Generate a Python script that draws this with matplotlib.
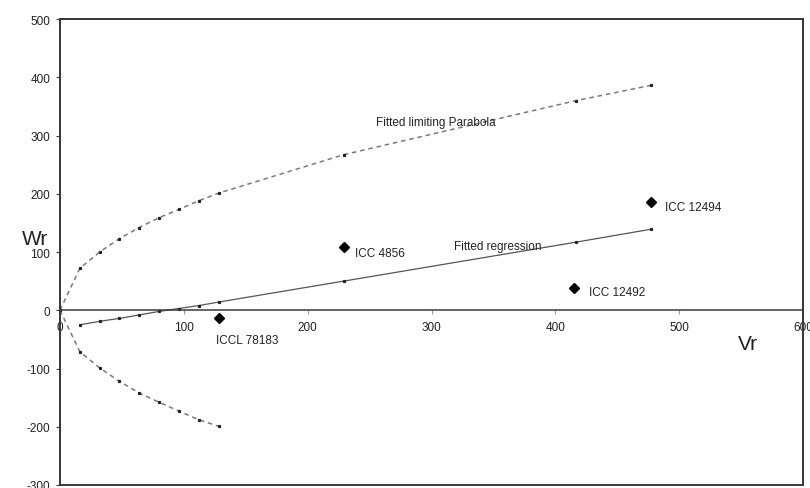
import matplotlib
matplotlib.use("Agg")
import matplotlib.pyplot as plt
from matplotlib.patches import Rectangle

plt.rcParams['font.family'] = ['Liberation Sans', 'DejaVu Sans']

# Fitted limiting parabola (upper and lower branches)
para_up_x = [0, 16, 32, 48, 64, 80, 96, 112, 128, 229, 417, 477]
para_up_y = [0, 72, 100, 123, 142, 159, 173, 188, 201, 267, 360, 386]
para_lo_x = [0, 16, 32, 48, 64, 80, 96, 112, 128]
para_lo_y = [0, -71, -99, -122, -142, -158, -173, -188, -199]

# Fitted regression line
reg_x = [16, 32, 48, 64, 80, 96, 112, 128, 229, 417, 477]
reg_y = [-25, -19, -14, -8, -2, 3, 8, 14, 50, 117, 139]

# Parent points
names = ['ICCL 78183', 'ICC 4856', 'ICC 12492', 'ICC 12494']
vr = [128, 229, 415, 477]
wr = [-14, 109, 39, 186]

xticks = [0, 100, 200, 300, 400, 500, 600]
yticks = [-300, -200, -100, 0, 100, 200, 300, 400, 500]

fig = plt.figure(figsize=(8.1, 4.89), dpi=100)
ax = fig.add_axes([60/810, 1 - 486/489, (803 - 60)/810, (486 - 20)/489])

axcol = '#3a3a3a'
ax.plot(para_up_x, para_up_y, ls=(0, (3, 2.5)), color='#7a7a7a', lw=1.1,
        marker='s', ms=1.3, mfc='#222222', mec='#222222')
ax.plot(para_lo_x, para_lo_y, ls=(0, (3, 2.5)), color='#7a7a7a', lw=1.1,
        marker='s', ms=1.3, mfc='#222222', mec='#222222')
ax.plot(reg_x, reg_y, ls='-', color='#555555', lw=0.9,
        marker='s', ms=1.3, mfc='#222222', mec='#222222')
ax.plot(vr, wr, ls='none', marker='D', ms=5, color='black')

ax.set_xlim(0, 600)
ax.set_ylim(-300, 500)

for s in ['top', 'right', 'left']:
    ax.spines[s].set_color(axcol)
    ax.spines[s].set_linewidth(1.4)
ax.spines['bottom'].set_position(('data', 0))
ax.spines['bottom'].set_color(axcol)
ax.spines['bottom'].set_linewidth(1.1)
ax.add_patch(Rectangle((0, 0), 1, 1, transform=ax.transAxes, fill=False,
                       ec=axcol, lw=1.4, clip_on=False, zorder=5))

ax.set_xticks(xticks)
ax.set_yticks(yticks)
ax.set_xticklabels([str(v) for v in xticks])
ax.set_yticklabels([str(v) for v in yticks])
ax.tick_params(axis='y', direction='out', length=3, width=0.8, pad=4, colors=axcol,
               labelcolor='#222222', labelsize=8.5)
ax.tick_params(axis='x', direction='out', length=3, width=0.8, pad=5, colors='#999999',
               labelcolor='#222222', labelsize=8.5)

ax.text(303.7, 323.6, 'Fitted limiting Parabola', fontsize=8.5, ha='center', va='center', color='#222222')
ax.text(353.8, 109.6, 'Fitted regression', fontsize=8.5, ha='center', va='center', color='#222222')
label_pos = {'ICCL 78183': (126, -50.9), 'ICC 4856': (238.3, 97.6),
             'ICC 12492': (427.3, 30.8), 'ICC 12494': (488.7, 178)}
for n in names:
    x, y = label_pos[n]
    ax.text(x, y, n, fontsize=8.5, ha='left', va='center', color='#222222')

ax.text(555.7, -56.5, 'Vr', fontsize=15, ha='center', va='center', color='#222222')
ax.text(-20.2, 123, 'Wr', fontsize=15, ha='center', va='center', color='#222222', clip_on=False)

fig.savefig('out.png', dpi=100)
